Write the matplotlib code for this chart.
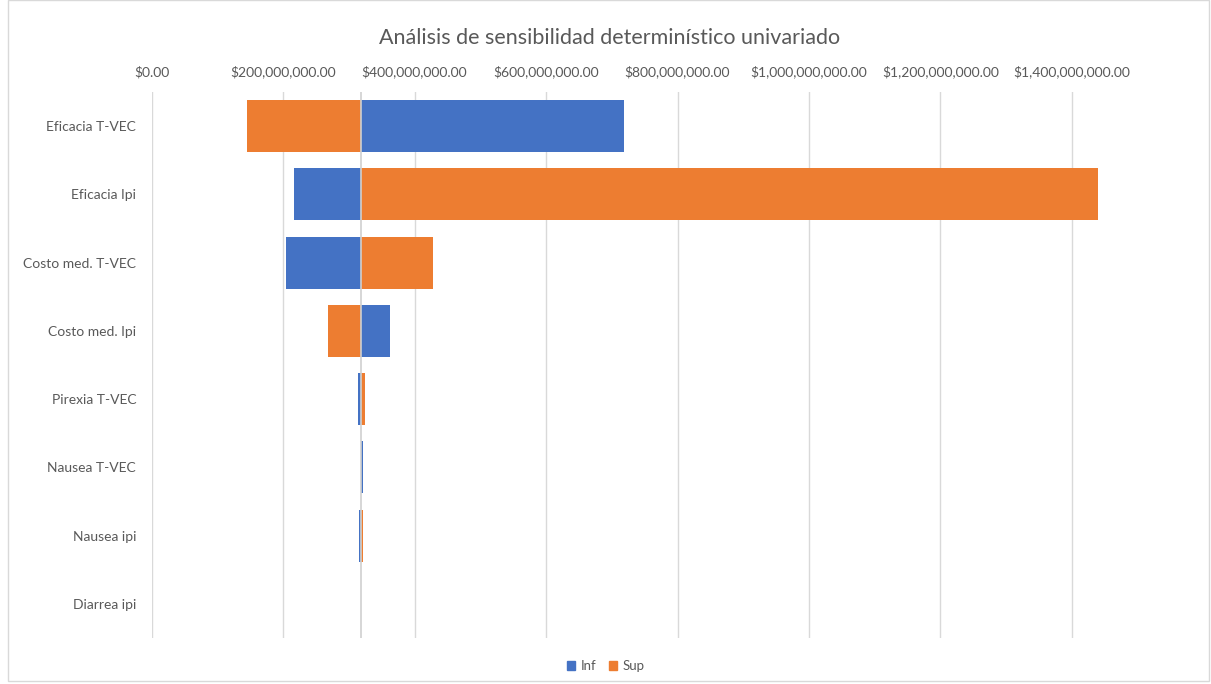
import matplotlib
matplotlib.use("Agg")
import matplotlib.pyplot as plt
from matplotlib.patches import Rectangle, Patch
from matplotlib.ticker import FuncFormatter, MultipleLocator

categories = ["Eficacia T-VEC", "Eficacia Ipi", "Costo med. T-VEC", "Costo med. Ipi",
              "Pirexia T-VEC", "Nausea T-VEC", "Nausea ipi", "Diarrea ipi"]
base_value = 318.6e6
inf_values = [718e6, 217e6, 204e6, 362e6, 314e6, 322e6, 316e6, 318.6e6]
sup_values = [145e6, 1440e6, 428e6, 269e6, 325e6, 318.6e6, 322e6, 318.6e6]
title = "Análisis de sensibilidad determinístico univariado"

BLUE = "#4472C4"
ORANGE = "#ED7D31"
TXT = "#595959"

plt.rcParams['font.family'] = ['Lato', 'DejaVu Sans']

W, H = 1211, 684
fig = plt.figure(figsize=(W / 100, H / 100), dpi=100)
left, right, top, bottom = 151.5, 1137.75, 92, 638
ax = fig.add_axes([left / W, 1 - bottom / H, (right - left) / W, (bottom - top) / H])

y = list(range(len(categories)))
ax.barh(y, [v - base_value for v in inf_values], left=base_value, height=0.76,
        color=BLUE, label="Inf", zorder=3)
ax.barh(y, [v - base_value for v in sup_values], left=base_value, height=0.76,
        color=ORANGE, label="Sup", zorder=3)

ax.set_xlim(0, 1.5e9)
ax.set_ylim(len(categories) - 0.5, -0.5)
ax.xaxis.set_major_locator(MultipleLocator(200e6))
ax.xaxis.set_major_formatter(FuncFormatter(lambda v, p: "${:,.2f}".format(v)))
ax.xaxis.tick_top()
ax.grid(axis='x', color='#d9d9d9', linewidth=1, zorder=0)
ax.axvline(base_value, color='#d0d0d0', linewidth=1.2, zorder=4)
for s in ax.spines.values():
    s.set_visible(False)
ax.tick_params(axis='x', length=0, pad=10, labelsize=10, labelcolor=TXT)
ax.tick_params(axis='y', length=0, pad=11, labelsize=10, labelcolor=TXT)
ax.set_yticks(y)
ax.set_yticklabels(categories)

fig.text(0.503, 1 - 38 / H, title, ha='center', va='center', fontsize=15.5, color=TXT)

handles = [Patch(color=BLUE, label="Inf"), Patch(color=ORANGE, label="Sup")]
fig.legend(handles=handles, loc='center', bbox_to_anchor=(606 / W, 1 - 666 / H), ncol=2,
           frameon=False, fontsize=9.5, labelcolor=TXT, handlelength=0.6, handleheight=0.6,
           handletextpad=0.4, columnspacing=1.0)

fig.patches.append(Rectangle((8 / W, 3 / H), (W - 10) / W, (H - 3) / H, transform=fig.transFigure,
                             fill=False, edgecolor='#d9d9d9', linewidth=1))

fig.savefig("out.png", dpi=100)
